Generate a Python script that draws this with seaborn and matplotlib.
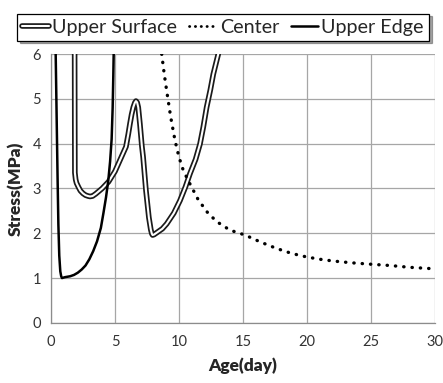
import matplotlib
matplotlib.use("Agg")
import matplotlib.pyplot as plt
import matplotlib.patheffects as pe
from matplotlib.lines import Line2D
import seaborn as sns
import pandas as pd

# Age (day) / stress (MPa) readings for each location
edge_age = [0.37, 0.45, 0.52, 0.58, 0.65, 0.73, 0.8, 0.86, 1.1, 1.5, 1.8, 2.1, 2.4, 2.7, 3.0,
            3.3, 3.6, 3.9, 4.1, 4.3, 4.48, 4.62, 4.74, 4.82, 4.87, 4.9]
edge_stress = [6.0, 4.5, 3.2, 2.2, 1.5, 1.15, 1.04, 1.0, 1.02, 1.04, 1.07, 1.12, 1.19, 1.28, 1.42,
               1.6, 1.82, 2.12, 2.45, 2.8, 3.18, 3.6, 4.1, 4.8, 5.5, 6.0]

surface_age = [1.85, 1.86, 1.87, 1.93, 2.0, 2.15, 2.3, 2.5, 2.7, 2.9, 3.05, 3.25, 3.5, 4.0,
               4.5, 5.0, 5.5, 5.86, 6.04, 6.17, 6.3, 6.43, 6.55, 6.64, 6.73, 6.82, 6.95,
               7.1, 7.2, 7.42, 7.65, 7.8, 7.88, 7.94, 8.05, 8.3, 8.7, 9.04, 9.6,
               10.08, 10.5, 10.86, 11.3, 11.64, 11.9, 12.16, 12.45, 12.68, 13.07]
surface_stress = [6.0, 4.5, 3.35, 3.2, 3.12, 3.03, 2.95, 2.89, 2.85, 2.83, 2.82, 2.83, 2.88, 3.0,
                  3.15, 3.38, 3.7, 3.93, 4.21, 4.44, 4.65, 4.81, 4.91, 4.95, 4.92, 4.81, 4.44,
                  3.95, 3.7, 2.96, 2.35, 2.08, 1.99, 1.96, 1.97, 2.02, 2.1, 2.21, 2.45,
                  2.73, 3.03, 3.33, 3.65, 3.99, 4.37, 4.81, 5.2, 5.55, 6.0]

center_age = [8.65, 8.85, 9.04, 9.35, 9.69, 10.0, 10.34, 10.86, 11.5, 12.29, 13.0, 13.98,
              15.16, 16.4, 17.63, 18.8, 19.98, 21.0, 22.05, 23.5, 24.92, 26.5, 28.0, 29.74]
center_stress = [6.0, 5.55, 5.18, 4.6, 4.07, 3.7, 3.4, 3.1, 2.75, 2.44, 2.25, 2.07,
                 1.96, 1.8, 1.66, 1.55, 1.47, 1.42, 1.38, 1.34, 1.31, 1.28, 1.24, 1.21]

x_ticks = [0, 5, 10, 15, 20, 25, 30]
y_ticks = [0, 1, 2, 3, 4, 5, 6]

sns.set_style("white")
plt.rcParams["font.family"] = ["Lato", "DejaVu Sans"]

fig = plt.figure(figsize=(4.43, 3.83), dpi=100)
ax = fig.add_axes([0.115, 0.157, 0.867, 0.702])

df_edge = pd.DataFrame({"age": edge_age, "stress": edge_stress})
df_surf = pd.DataFrame({"age": surface_age, "stress": surface_stress})
df_center = pd.DataFrame({"age": center_age, "stress": center_stress})

# Upper Surface: white core with a black outline (double line)
double = [pe.Stroke(linewidth=4.0, foreground="#1a1a1a"), pe.Normal()]
sns.lineplot(data=df_surf, x="age", y="stress", ax=ax, sort=False, estimator=None,
             color="white", linewidth=1.5, zorder=3)
ax.lines[-1].set_path_effects(double)
ax.lines[-1].set_solid_joinstyle("round")

# Center: dotted
sns.lineplot(data=df_center, x="age", y="stress", ax=ax, sort=False, estimator=None,
             color="black", linewidth=2.4, zorder=3)
ax.lines[-1].set_linestyle((0, (0.1, 2.4)))
ax.lines[-1].set_dash_capstyle("round")

# Upper Edge: solid
sns.lineplot(data=df_edge, x="age", y="stress", ax=ax, sort=False, estimator=None,
             color="black", linewidth=1.8, zorder=4)
ax.lines[-1].set_solid_joinstyle("round")

ax.set_xlim(0, 30)
ax.set_ylim(0, 6)
ax.set_xticks(x_ticks)
ax.set_yticks(y_ticks)
ax.grid(True, color="#a6a6a6", linewidth=0.9)
for s in ["top", "right"]:
    ax.spines[s].set_visible(False)
for s in ["left", "bottom"]:
    ax.spines[s].set_color("#8c8c8c")
    ax.spines[s].set_linewidth(0.9)
ax.tick_params(axis="both", direction="out", length=4, width=0.9, color="#8c8c8c",
               labelsize=10.5, labelcolor="#333333", pad=3)
ax.tick_params(axis="x", pad=5)

ax.set_xlabel("Age(day)", fontsize=12.5, fontweight="heavy", labelpad=6)
ax.set_ylabel("Stress(MPa)", fontsize=12.5, fontweight="heavy", labelpad=6)

h_surf = Line2D([], [], color="white", linewidth=1.5, path_effects=double)
h_center = Line2D([], [], color="black", linewidth=2.0, linestyle=(0, (0.1, 2.0)),
                  dash_capstyle="round")
h_edge = Line2D([], [], color="black", linewidth=1.8)
leg = fig.legend([h_surf, h_center, h_edge], ["Upper Surface", "Center", "Upper Edge"],
                 loc="upper center", bbox_to_anchor=(0.503, 0.99), ncol=3,
                 fontsize=14.2, frameon=True, fancybox=False, shadow=True,
                 handlelength=1.4, handletextpad=0.15, columnspacing=0.6,
                 borderpad=0.25, edgecolor="black")
leg.get_frame().set_linewidth(0.9)

fig.savefig("out.png", dpi=100)
